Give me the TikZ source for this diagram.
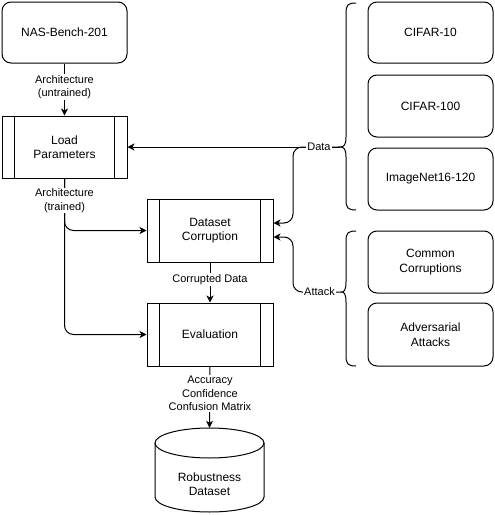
\documentclass[tikz,border=0pt]{standalone}
\usepackage{fontspec}
\setmainfont{Liberation Sans}
\usetikzlibrary{arrows.meta}
\begin{document}
\begin{tikzpicture}[x=1pt,y=-1pt,
  line/.style={line width=1pt,draw=black},
  arr/.style={line, -{Stealth[length=7pt,width=7pt,inset=2pt]}, rounded corners=9pt},
  rbox/.style={line, rounded corners=9pt, minimum width=125pt, minimum height=61pt, align=center, inner sep=0pt, font=\fontsize{12}{14.5}\selectfont},
  proc/.style={line, minimum width=126pt, minimum height=63pt, align=center, inner sep=0pt, font=\fontsize{12}{14.5}\selectfont,
    path picture={\draw[line width=1pt] ([xshift=12.6pt]path picture bounding box.north west) -- ([xshift=12.6pt]path picture bounding box.south west);
                  \draw[line width=1pt] ([xshift=-12.6pt]path picture bounding box.north east) -- ([xshift=-12.6pt]path picture bounding box.south east);}},
  lbl/.style={fill=white, inner sep=1pt, align=center, font=\fontsize{11}{13.5}\selectfont},
  ttext/.style={align=center, inner sep=0pt, font=\fontsize{12}{14.5}\selectfont}
]
\useasboundingbox (0,0) rectangle (495,515);

% left column
\node[rbox] (nas) at (64.5,32.5) {NAS-Bench-201};
\node[proc, minimum width=125pt, minimum height=62pt] (lp) at (64.5,147) {Load\\Parameters};
\node[proc] (dc) at (210,230.5) {Dataset\\Corruption};
\node[proc] (ev) at (210,334.5) {Evaluation};

% cylinder
\node[minimum width=109pt, minimum height=84pt, inner sep=0pt] (rd) at (209.5,470) {};
\draw[line, fill=white] (155,443) -- (155,497) arc[start angle=180, end angle=360, x radius=54.5pt, y radius=15pt] -- (264,443);
\draw[line] (209.5,443) ellipse [x radius=54.5pt, y radius=15pt];
\node[ttext] (rdlabel) at (209.5,484) {Robustness\\Dataset};

% right column
\node[rbox] (c10) at (430.5,32.5) {CIFAR-10};
\node[rbox, minimum height=62pt] (c100) at (430.5,106) {CIFAR-100};
\node[rbox, minimum height=62pt] (inet) at (430.5,179) {ImageNet16-120};
\node[rbox, minimum height=62pt] (cc) at (430.5,262) {Common\\Corruptions};
\node[rbox, minimum height=63pt] (aa) at (430.5,334.5) {Adversarial\\Attacks};

% braces
\coordinate (b1) at (340,147);
\coordinate (b2) at (342,292);
\draw[line] (356,3) .. controls (348,3) and (346,5) .. (346,13) -- (346,137)
  .. controls (346,145) and (344,147) .. (b1)
  .. controls (344,147) and (346,149) .. (346,157) -- (346,200)
  .. controls (346,208) and (348,210) .. (356,210);
\draw[line] (356,231) .. controls (348,231) and (346,233) .. (346,241) -- (346,282)
  .. controls (346,290) and (344,292) .. (b2)
  .. controls (344,292) and (346,294) .. (346,302) -- (346,356)
  .. controls (346,364) and (348,366) .. (356,366);

% connectors
\draw[arr] (nas.south) -- (lp.north);
\draw[arr] (lp.south) |- (dc.west);
\draw[arr] (lp.south) |- (ev.west);
\draw[arr] (dc.south) -- (ev.north);
\draw[arr] (ev.south) -- (rd.north);
\draw[arr] (b1) -- (lp.east);
\draw[arr] (b1) -- (293,147) |- ([yshift=7.5pt]dc.east);
\draw[arr] (b2) -- (293,292) |- ([yshift=-6.5pt]dc.east);

% labels
\node[lbl] (l1) at (64.5,87) {Architecture\\(untrained)};
\node[lbl] (l2) at (64.5,200.5) {Architecture\\(trained)};
\node[lbl] (l3) at (210,279.5) {Corrupted Data};
\node[lbl] (l4) at (210,393.5) {Accuracy\\Confidence\\Confusion Matrix};
\node[lbl] (l5) at (319,147) {Data};
\node[lbl] (l6) at (319.5,292) {Attack};
\end{tikzpicture}
\end{document}
